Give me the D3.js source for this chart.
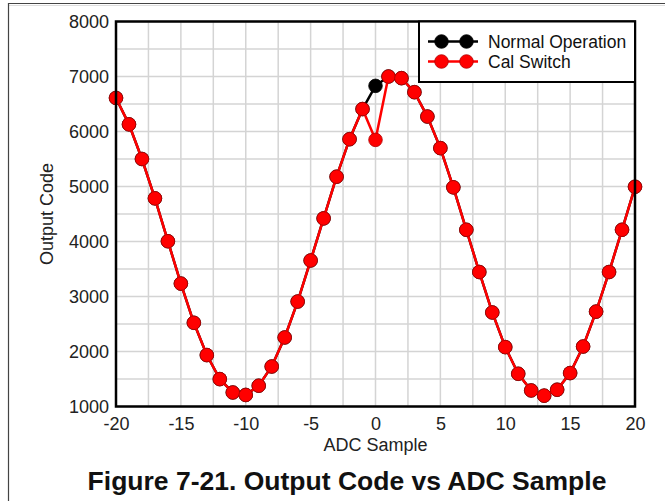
<!DOCTYPE html>
<html>
<head>
<meta charset="utf-8">
<script src="https://cdn.jsdelivr.net/npm/d3@7"></script>
<style>
  html, body { margin: 0; padding: 0; background: #fff; }
  svg { display: block; font-family: Arial, "Liberation Sans", sans-serif; }
</style>
</head>
<body>
<svg id="chart" width="665" height="501"></svg>
<script>
// ADC sample index
const samples = d3.range(-20, 21);
// Output code with the calibration switch active
const calSwitch = [
  6610, 6130, 5500, 4785, 4005, 3235, 2522, 1935, 1498, 1255,
  1210, 1378, 1727, 2255, 2908, 3655, 4420, 5178, 5860, 6408,
  5848, 7000, 6970, 6715, 6272, 5698, 4985, 4213, 3445, 2710,
  2080, 1595, 1292, 1197, 1305, 1608, 2090, 2725, 3445, 4213, 4995
];
// Output code in normal operation (differs only at sample 0)
const normalOp = [
  6610, 6130, 5500, 4785, 4005, 3235, 2522, 1935, 1498, 1255,
  1210, 1378, 1727, 2255, 2908, 3655, 4420, 5178, 5860, 6408,
  6830, 7000, 6970, 6715, 6272, 5698, 4985, 4213, 3445, 2710,
  2080, 1595, 1292, 1197, 1305, 1608, 2090, 2725, 3445, 4213, 4995
];
const xTicks = [-20, -15, -10, -5, 0, 5, 10, 15, 20];
const yTicks = [1000, 2000, 3000, 4000, 5000, 6000, 7000, 8000];
const seriesNames = ["Normal Operation", "Cal Switch"];
const seriesColors = ["#000000", "#ff0000"];
const markerStroke = ["#000000", "#b00000"];

const svg = d3.select("#chart");
const plot = { left: 116, right: 635, top: 21.5, bottom: 406.5 };

const x = d3.scaleLinear().domain([-20, 20]).range([plot.left, plot.right]);
const y = d3.scaleLinear().domain([1000, 8000]).range([plot.bottom, plot.top]);

// page frame edges
svg.append("line").attr("x1", 8).attr("x2", 665).attr("y1", 3.5).attr("y2", 3.5)
  .attr("stroke", "#444").attr("stroke-width", 1.2);
svg.append("line").attr("x1", 8).attr("x2", 665).attr("y1", 5.5).attr("y2", 5.5)
  .attr("stroke", "#ddd").attr("stroke-width", 1);
svg.append("line").attr("x1", 8.5).attr("x2", 8.5).attr("y1", 3).attr("y2", 501)
  .attr("stroke", "#444").attr("stroke-width", 1.2);

// grid
const grid = svg.append("g");
d3.range(-20, 20.01, 2.5).forEach(v => {
  grid.append("line").attr("x1", x(v)).attr("x2", x(v))
    .attr("y1", plot.top).attr("y2", plot.bottom)
    .attr("stroke", "#d4d4d4").attr("stroke-width", 1.5);
});
d3.range(1000, 8000.1, 500).forEach(v => {
  grid.append("line").attr("x1", plot.left).attr("x2", plot.right)
    .attr("y1", y(v)).attr("y2", y(v))
    .attr("stroke", "#d4d4d4").attr("stroke-width", 1.5);
});

// axes (labels only, no tick marks); plain hyphen for negatives
const fmt = d => String(d);
const xAxis = svg.append("g").attr("transform", `translate(0,${plot.bottom})`)
  .call(d3.axisBottom(x).tickValues(xTicks).tickSize(0).tickPadding(11).tickFormat(fmt));
const yAxis = svg.append("g").attr("transform", `translate(${plot.left},0)`)
  .call(d3.axisLeft(y).tickValues(yTicks).tickSize(0).tickPadding(7).tickFormat(fmt));
[xAxis, yAxis].forEach(a => {
  a.select(".domain").remove();
  a.selectAll("text").attr("font-size", 18).attr("fill", "#222")
    .attr("font-family", "Arial, 'Liberation Sans', sans-serif");
});

// series: black first, red drawn on top
const line = d3.line().x((d, i) => x(samples[i])).y(d => y(d));
[normalOp, calSwitch].forEach((vals, s) => {
  const g = svg.append("g");
  g.append("path").datum(vals).attr("d", line)
    .attr("fill", "none").attr("stroke", seriesColors[s]).attr("stroke-width", 2.5);
  g.selectAll("circle").data(vals).join("circle")
    .attr("cx", (d, i) => x(samples[i])).attr("cy", d => y(d)).attr("r", 6.8)
    .attr("fill", seriesColors[s]).attr("stroke", markerStroke[s]).attr("stroke-width", 0.8);
});

// plot border
svg.append("rect").attr("x", plot.left).attr("y", plot.top)
  .attr("width", plot.right - plot.left).attr("height", plot.bottom - plot.top)
  .attr("fill", "none").attr("stroke", "#000").attr("stroke-width", 2.5);

// legend
const lg = svg.append("g");
lg.append("rect").attr("x", 419).attr("y", plot.top).attr("width", plot.right - 419).attr("height", 60.5)
  .attr("fill", "#fff").attr("stroke", "#000").attr("stroke-width", 2);
seriesNames.forEach((name, s) => {
  const ly = 41.5 + s * 20;
  lg.append("line").attr("x1", 428).attr("x2", 478).attr("y1", ly).attr("y2", ly)
    .attr("stroke", seriesColors[s]).attr("stroke-width", 2.5);
  [441.5, 466.5].forEach(cx => lg.append("circle").attr("cx", cx).attr("cy", ly).attr("r", 6.8)
    .attr("fill", seriesColors[s]).attr("stroke", markerStroke[s]).attr("stroke-width", 0.8));
  lg.append("text").attr("x", 488).attr("y", ly).attr("dy", "0.35em")
    .attr("font-size", 17.5).attr("fill", "#111").text(name);
});

// axis titles
svg.append("text").attr("x", (plot.left + plot.right) / 2).attr("y", 451)
  .attr("text-anchor", "middle").attr("font-size", 18).attr("fill", "#222").text("ADC Sample");
svg.append("text").attr("transform", `translate(53,${(plot.top + plot.bottom) / 2}) rotate(-90)`)
  .attr("text-anchor", "middle").attr("font-size", 18).attr("fill", "#222").text("Output Code");

// figure caption
svg.append("text").attr("x", 347).attr("y", 490)
  .attr("text-anchor", "middle").attr("font-size", 26.5).attr("font-weight", "bold")
  .attr("fill", "#111").text("Figure 7-21. Output Code vs ADC Sample");
</script>
</body>
</html>
